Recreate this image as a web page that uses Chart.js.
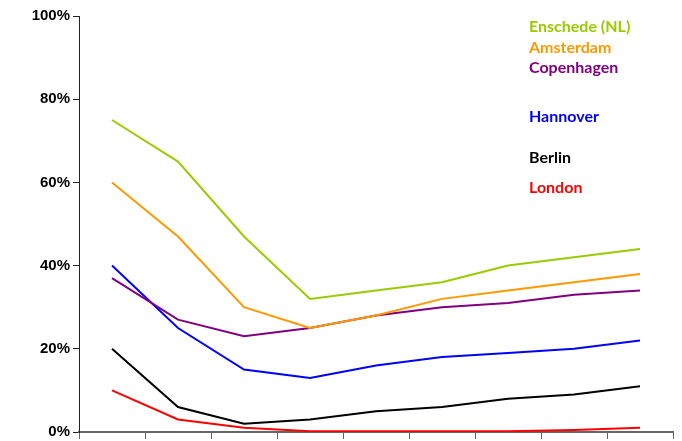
<!DOCTYPE html>
<html>
<head>
<meta charset="utf-8">
<script src="https://cdn.jsdelivr.net/npm/chart.js@4.4.0/dist/chart.umd.min.js"></script>
<style>
  html, body { margin: 0; padding: 0; background: #fff; }
  #wrap { width: 682px; height: 441px; position: relative; }
</style>
</head>
<body>
<div id="wrap"><canvas id="myChart"></canvas></div>
<script>
// 9 points along the x axis (no labels shown in the original)
var categories = ['1', '2', '3', '4', '5', '6', '7', '8', '9'];

var cities = ['Enschede (NL)', 'Amsterdam', 'Copenhagen', 'Hannover', 'Berlin', 'London'];
var enschede   = [75, 65, 47, 32, 34, 36, 40, 42, 44];
var amsterdam  = [60, 47, 30, 25, 28, 32, 34, 36, 38];
var copenhagen = [37, 27, 23, 25, 28, 30, 31, 33, 34];
var hannover   = [40, 25, 15, 13, 16, 18, 19, 20, 22];
var berlin     = [20, 6, 2, 3, 5, 6, 8, 9, 11];
var london     = [10, 3, 1, 0.2, 0.2, 0.2, 0.2, 0.5, 1];

var yTicks = [0, 20, 40, 60, 80, 100];

var colors = ['#99CC00', '#FF9900', '#800080', '#0000FF', '#000000', '#FF0000'];
var series = [enschede, amsterdam, copenhagen, hannover, berlin, london];

// where the city names sit (centre y of each label)
var labelX = 529;
var labelY = [27, 48, 68, 117, 158, 188];

var datasets = [];
for (var i = 0; i < cities.length; i++) {
    datasets.push({
        label: cities[i],
        data: series[i],
        borderColor: colors[i],
        backgroundColor: colors[i],
        borderWidth: 2,
        pointRadius: 0,
        tension: 0,
        fill: false
    });
}

// city names drawn as coloured text in the top right
var cityLabels = {
    id: 'cityLabels',
    afterDraw: function(chart) {
        var ctx = chart.ctx;
        ctx.save();
        ctx.font = 'bold 16px Lato, "Open Sans", sans-serif';
        ctx.textAlign = 'left';
        ctx.textBaseline = 'middle';
        chart.data.datasets.forEach(function(ds, i) {
            ctx.fillStyle = ds.borderColor;
            ctx.fillText(ds.label, labelX, labelY[i]);
        });
        ctx.restore();
    }
};

var ctx = document.getElementById('myChart').getContext('2d');
var myChart = new Chart(ctx, {
    type: 'line',
    data: {
        labels: categories,
        datasets: datasets
    },
    options: {
        responsive: true,
        maintainAspectRatio: false,
        animation: false,
        layout: { padding: { top: 16, right: 9, left: 0, bottom: 0 } },
        plugins: {
            legend: { display: false },
            tooltip: { enabled: false }
        },
        scales: {
            x: {
                offset: true,
                grid: {
                    offset: true,
                    drawOnChartArea: false,
                    drawTicks: true,
                    tickLength: 7,
                    color: '#666'
                },
                border: { display: true, color: '#666', width: 2 },
                ticks: { display: false },
                afterFit: function(scale) { scale.height = 9; }
            },
            y: {
                min: 0,
                max: 100,
                afterBuildTicks: function(scale) {
                    scale.ticks = yTicks.map(function(v) { return { value: v }; });
                },
                grid: {
                    drawOnChartArea: false,
                    drawTicks: true,
                    tickLength: 6,
                    color: '#222'
                },
                border: { display: true, color: '#222', width: 1 },
                ticks: {
                    padding: 3,
                    color: '#000',
                    font: { family: '"Liberation Sans", Arial, sans-serif', size: 15, weight: 'bold', lineHeight: 0.8 },
                    callback: function(v) { return v + '%'; }
                },
                afterFit: function(scale) { scale.width = 79; }
            }
        }
    },
    plugins: [cityLabels]
});
</script>
</body>
</html>
